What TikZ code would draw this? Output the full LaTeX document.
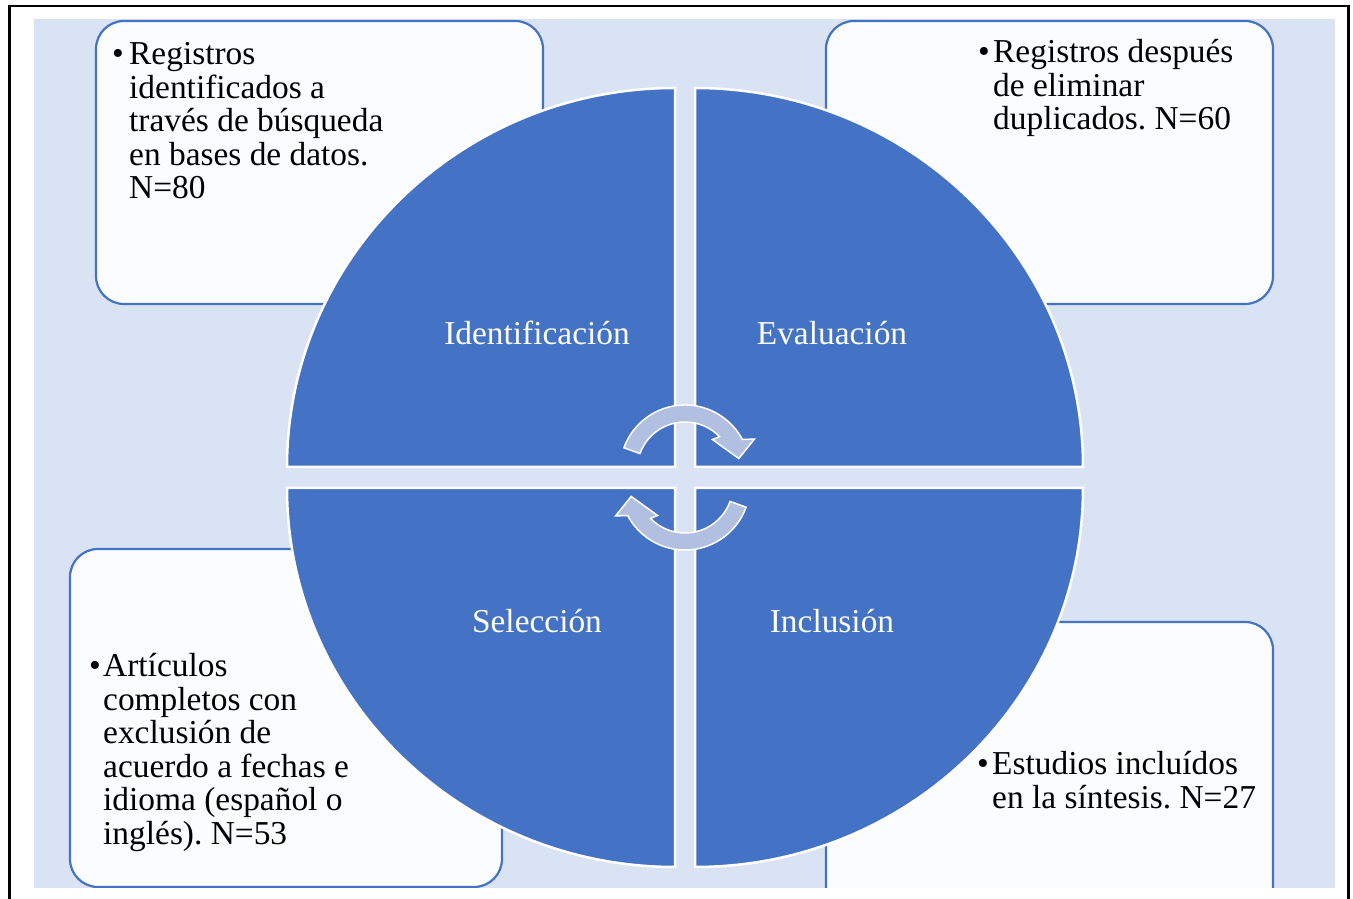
\documentclass[tikz,border=0pt]{standalone}
\usepackage{fontspec}
\setmainfont{Liberation Serif}
\usetikzlibrary{positioning}
\definecolor{quadblue}{HTML}{4472C4}
\definecolor{backblue}{HTML}{DAE3F3}
\definecolor{boxfill}{HTML}{FBFCFE}
\definecolor{arrowfill}{HTML}{B1BFE1}
\frenchspacing
\tikzset{
  quadrant/.style={fill=quadblue,draw=white,line width=2.5pt},
  infobox/.style={fill=boxfill,draw=quadblue,line width=2.2pt,rounded corners=28pt},
  qlabel/.style={anchor=base,text=white,inner sep=0pt,font=\fontsize{33.4}{33.5}\selectfont},
  boxtext/.style={anchor=base west,align=left,inner sep=0pt,font=\fontsize{33.4}{33.5}\selectfont},
  arrowshape/.style={fill=arrowfill,draw=white,line width=1.5pt},
  cyclearrow/.pic={
    \path[arrowshape] (160:65) arc[start angle=160,end angle=28,radius=65]
      -- (24:76) -- (12:55) -- (48:41) -- (44:48)
      arc[start angle=44,end angle=160,radius=48] -- cycle;
  }
}

\begin{document}
\begin{tikzpicture}[x=1pt,y=1pt]
  \useasboundingbox (0,0) rectangle (1353,899);
  \draw[line width=2.5pt] (9.5,-20) rectangle (1348.5,893);
  \fill[backblue] (34,11) rectangle (1335,880);

  % boxes behind the circle
  \begin{scope}
    \clip (34,11) rectangle (1335,880);
    \draw[infobox] (96,595) rectangle (543,878);
    \draw[infobox] (826,595) rectangle (1273,878);
    \draw[infobox] (70,12) rectangle (502,350);
    \draw[infobox] (826,-20) rectangle (1273,277);
  \end{scope}

  % four quadrants
  \path[quadrant] (675,432) -- ++(-388,0) arc[start angle=180,end angle=90,x radius=388,y radius=379] -- cycle;
  \path[quadrant] (695,432) -- ++(0,379) arc[start angle=90,end angle=0,x radius=388,y radius=379] -- cycle;
  \path[quadrant] (675,411) -- ++(-388,0) arc[start angle=180,end angle=270,x radius=388,y radius=379] -- cycle;
  \path[quadrant] (695,411) -- ++(388,0) arc[start angle=0,end angle=-90,x radius=388,y radius=379] -- cycle;

  \pic (arrtop) at (685,429) {cyclearrow};
  \pic[rotate=180] (arrbot) at (685,414) {cyclearrow};

  \node[qlabel] (ident) at (537,554) {Identificación};
  \node[qlabel] (evalu) at (832,554) {Evaluación};
  \node[qlabel] (selec) at (537,266) {Selección};
  \node[qlabel] (inclu) at (832,266) {Inclusión};

  % box texts (base = last line)
  \node[boxtext] (tlbul) at (112,834) {•};
  \node[boxtext] (tltext) at (129,700) {Registros\\identificados a\\través de búsqueda\\en bases de datos.\\N=80};
  \node[boxtext] (trbul) at (978,836) {•};
  \node[boxtext] (trtext) at (993,769) {Registros después\\de eliminar\\duplicados. N=60};
  \node[boxtext] (blbul) at (89,222) {•};
  \node[boxtext] (bltext) at (103,54.5) {Artículos\\completos con\\exclusión de\\acuerdo a fechas e\\idioma (español o\\inglés). N=53};
  \node[boxtext] (brbul) at (977,124) {•};
  \node[boxtext] (brtext) at (992,90.5) {Estudios incluídos\\en la síntesis. N=27};
\end{tikzpicture}
\end{document}
